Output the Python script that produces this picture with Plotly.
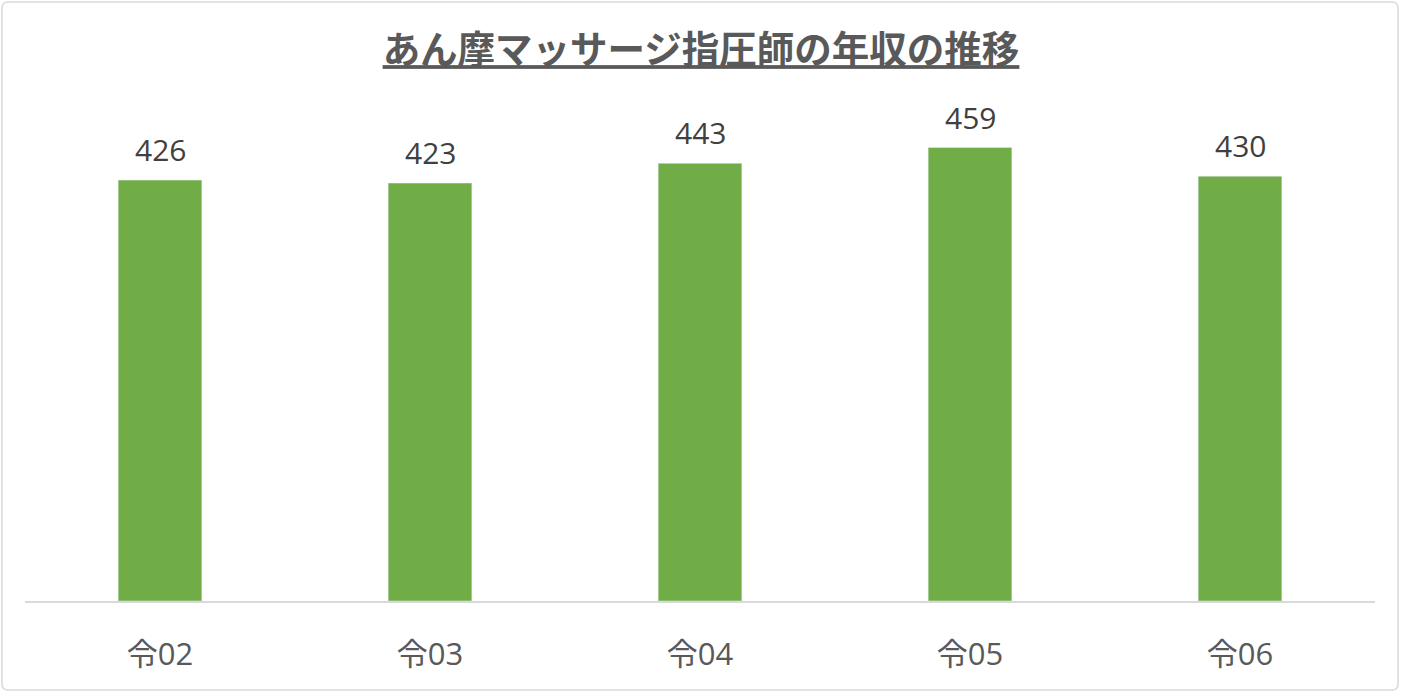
import plotly.graph_objects as go

# 年度（令和）と年収（万円）
years = ["令02", "令03", "令04", "令05", "令06"]
salary = [426, 423, 443, 459, 430]

TITLE = "あん摩マッサージ指圧師の年収の推移"

# plot area in pixels: x 25..1375, y 107..601
W, H = 1402, 693
L, R, T, B = 25, 27, 107, 92
pw, ph = W - L - R, H - T - B


def px_x(v):
    return (v - L) / pw


def px_y(v):
    return (H - B - v) / ph


fig = go.Figure(
    go.Bar(
        x=years,
        y=salary,
        marker_color="#70ad47",
        hoverinfo="x+y",
    )
)

# data labels above the bars
for yr, val in zip(years, salary):
    fig.add_annotation(
        x=yr,
        y=val,
        text=str(val),
        showarrow=False,
        yanchor="bottom",
        yshift=8,
        font=dict(size=30, color="#404040", family="Open Sans, Noto Sans CJK JP"),
    )

fig.update_layout(
    width=W,
    height=H,
    margin=dict(l=L, r=R, t=T, b=B),
    paper_bgcolor="white",
    plot_bgcolor="white",
    showlegend=False,
    bargap=0.69,
    title=dict(
        text=f"<b><u>{TITLE}</u></b>",
        x=0.5,
        xanchor="center",
        y=1 - 50 / H,
        yanchor="middle",
        font=dict(size=37.5, color="#595959", family="Noto Sans CJK JP"),
    ),
    font=dict(family="Noto Sans CJK JP"),
)

fig.update_xaxes(
    showline=True,
    linecolor="#d9d9d9",
    linewidth=1.5,
    showgrid=False,
    ticks="",
    ticklabelstandoff=25,
    tickfont=dict(size=31, color="#595959", family="Open Sans, Noto Sans CJK JP"),
)
fig.update_yaxes(range=[0, 500], visible=False, showgrid=False)

# 外枠 (rounded rectangle)
x0, x1 = px_x(2), px_x(1398)
y0, y1 = px_y(690), px_y(2)
rx, ry = 6 / pw, 6 / ph
frame = (
    f"M {x0 + rx},{y1} L {x1 - rx},{y1} Q {x1},{y1} {x1},{y1 - ry} "
    f"L {x1},{y0 + ry} Q {x1},{y0} {x1 - rx},{y0} "
    f"L {x0 + rx},{y0} Q {x0},{y0} {x0},{y0 + ry} "
    f"L {x0},{y1 - ry} Q {x0},{y1} {x0 + rx},{y1} Z"
)
fig.add_shape(
    type="path",
    xref="paper",
    yref="paper",
    path=frame,
    line=dict(color="#d9d9d9", width=1.5),
    layer="below",
)

fig.write_html(
    "out.html",
    config={"displayModeBar": False},
    post_script="document.body.style.margin='0';document.body.style.overflow='hidden';",
)
